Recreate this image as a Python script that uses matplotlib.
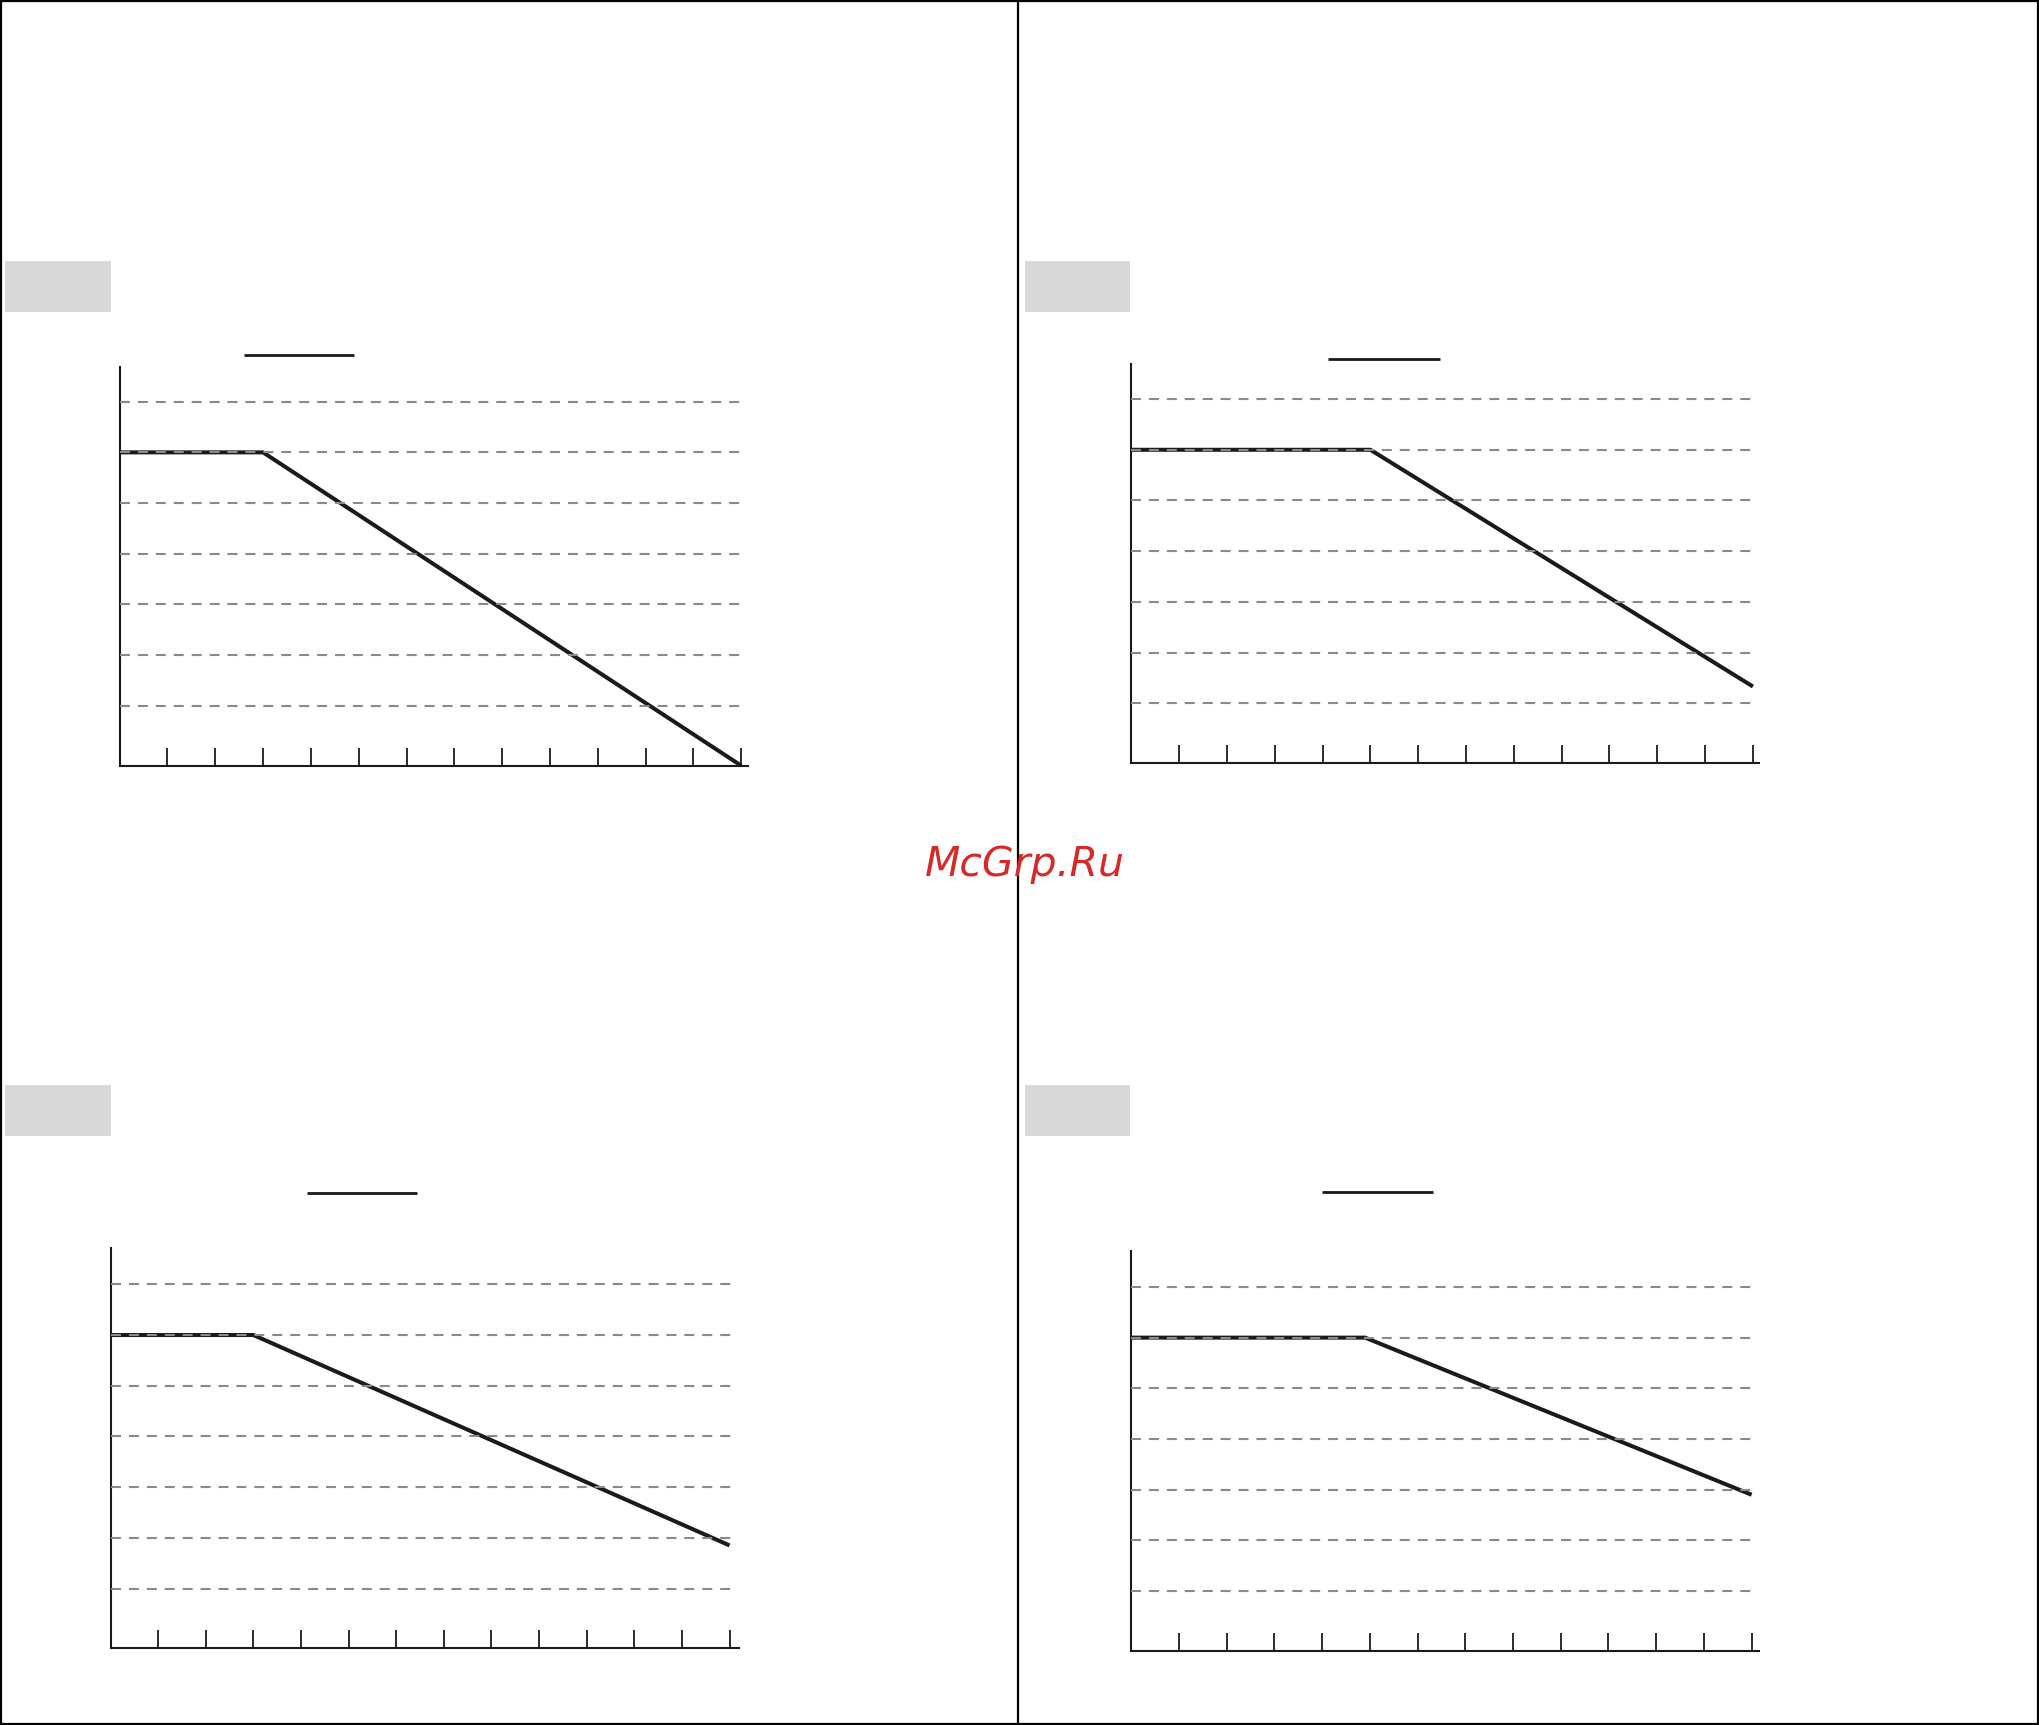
import numpy as np
import matplotlib
matplotlib.use("Agg")
import matplotlib.pyplot as plt
from matplotlib.lines import Line2D
from matplotlib.patches import Rectangle

# data (x in tick units, y in gridline units)
x_ticks = list(range(1, 14))
grid_levels = [1, 2, 3, 4, 5, 6, 7]

x1 = [0, 3, 13]
y1 = [6, 6, -0.18]
x2 = [0, 5, 13]
y2 = [6, 6, 1.33]
x3 = [0, 3, 13]
y3 = [6, 6, 1.85]
x4 = [0, 4.9, 13]
y4 = [6, 6, 2.9]

series = [(x1, y1), (x2, y2), (x3, y3), (x4, y4)]

# layout in reference pixels (1568 x 1327 grid)
W, H = 1568.0, 1327.0
# y-axis x, x-axis y, x of tick 13, right end of x-axis, top of y-axis
panels = [
    (92, 589, 570, 575, 282),
    (870, 587, 1348, 1353, 280),
    (85, 1268, 561, 568, 960),
    (870, 1270, 1347, 1353, 962),
]
# little black segment above each chart: x start, x end, y
bars = [(188, 272, 273), (1021, 1107, 276), (236, 321, 918), (1017, 1102, 917)]
boxes = [(4, 201), (788, 201), (4, 835), (788, 835)]
unit_y = 39.0
y_off = 7.0  # gridline 0 sits this far above the x-axis

fig = plt.figure(figsize=(20.39, 17.25), dpi=100)

for (xs, ys), (x0, yb, x13, xr, yt), (bx0, bx1, by) in zip(series, panels, bars):
    unit_x = (x13 - x0) / 13.0
    ax = fig.add_axes([x0 / W, 1 - yb / H, (xr - x0) / W, (yb - yt) / H])
    ybot = -y_off / unit_y
    ax.set_xlim(0, (xr - x0) / unit_x)
    ax.set_ylim(ybot, ybot + (yb - yt) / unit_y)
    ax.patch.set_alpha(0)
    for s in ['top', 'right']:
        ax.spines[s].set_visible(False)
    for s in ['left', 'bottom']:
        ax.spines[s].set_color('#1a1a1a')
        ax.spines[s].set_linewidth(1.5)
    ax.set_xticks(x_ticks)
    ax.set_yticks([])
    ax.tick_params(axis='x', direction='in', length=13, width=1.3,
                   color='#1a1a1a', labelbottom=False)

    ax.plot(xs, ys, color='#1a1a1a', lw=2.9, solid_capstyle='butt', zorder=2)
    for g in grid_levels:
        ax.plot([0, 13.05], [g, g], color='#8a8a8a', lw=1.5,
                dashes=(4.8, 3.8), zorder=3)

    ax.plot([(bx0 - x0) / unit_x, (bx1 - x0) / unit_x],
            [ybot + (yb - by) / unit_y] * 2, color='#1a1a1a', lw=2.0,
            clip_on=False, solid_capstyle='butt')

for bx, by in boxes:
    fig.add_artist(Rectangle((bx / W, 1 - (by + 39) / H), 81 / W, 39 / H,
                             transform=fig.transFigure, color='#d9d9d9', lw=0))

# frame and divider
fig.add_artist(Rectangle((0.0006, 0.0008), 0.9988, 0.9984, transform=fig.transFigure,
                         fill=False, edgecolor='black', lw=1.6))
fig.add_artist(Line2D([783 / W, 783 / W], [0, 1], transform=fig.transFigure,
                      color='black', lw=1.6))

fig.text(788 / W, 1 - 665 / H, 'McGrp.Ru', color='#d42a2a', fontsize=29.5,
         style='italic', ha='center', va='center')

fig.savefig('out.png', dpi=100)
